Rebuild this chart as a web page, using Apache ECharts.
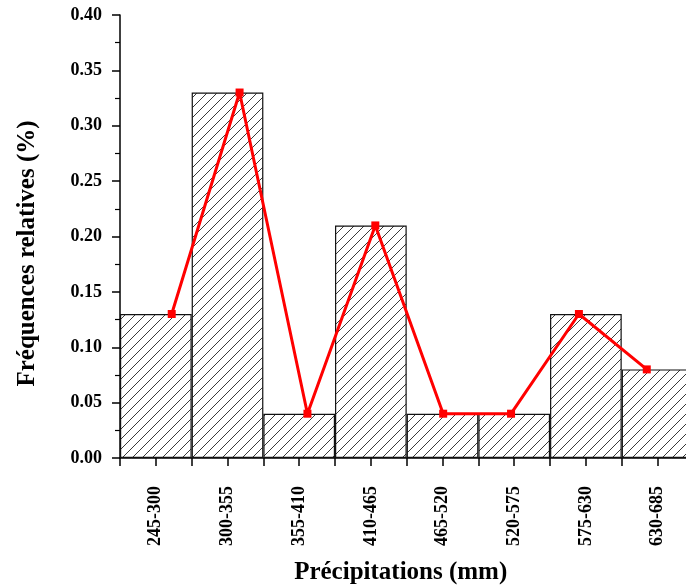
<!DOCTYPE html>
<html>
<head>
<meta charset="utf-8">
<script src="https://cdn.jsdelivr.net/npm/echarts@6/dist/echarts.min.js"></script>
<style>
  html, body { margin: 0; padding: 0; background: #fff; }
  #chart { width: 686px; height: 587px; }
</style>
</head>
<body>
<div id="chart"></div>
<script>
// Precipitation classes (mm) and their relative frequencies
const classes = ['245-300', '300-355', '355-410', '410-465', '465-520', '520-575', '575-630', '630-685'];
const frequencies = [0.13, 0.33, 0.04, 0.21, 0.04, 0.04, 0.13, 0.08];
// Frequency polygon: class number and frequency
const polygonClass = [1, 2, 3, 4, 5, 6, 7, 8];
const polygonFreq = [0.13, 0.33, 0.04, 0.21, 0.04, 0.04, 0.13, 0.08];
const yTicks = [0, 0.05, 0.10, 0.15, 0.20, 0.25, 0.30, 0.35, 0.40];

// Diagonal hatch tile for the histogram bars
function hatchTile(size) {
  const c = document.createElement('canvas');
  c.width = size; c.height = size;
  const g = c.getContext('2d');
  g.fillStyle = '#ffffff';
  g.fillRect(0, 0, size, size);
  g.strokeStyle = '#222222';
  g.lineWidth = 0.9;
  g.beginPath();
  g.moveTo(0, size); g.lineTo(size, 0);
  g.moveTo(-size / 2, size / 2); g.lineTo(size / 2, -size / 2);
  g.moveTo(size / 2, size * 1.5); g.lineTo(size * 1.5, size / 2);
  g.stroke();
  return c;
}

const font = '"Liberation Serif", "Times New Roman", serif';
const chart = echarts.init(document.getElementById('chart'), null, { renderer: 'canvas' });

const halfTicks = [];
classes.forEach(function (c) { halfTicks.push(c + 'a', c + 'b'); });

chart.setOption({
  animation: false,
  backgroundColor: '#ffffff',
  grid: {
    left: 120, top: 15, width: 573.4, height: 443,
    containLabel: false,
    outerBoundsMode: 'none'
  },
  xAxis: [
    {
      type: 'category',
      data: classes,
      boundaryGap: true,
      axisLine: { show: true, lineStyle: { color: '#000', width: 1.5 } },
      axisTick: { show: false },
      axisLabel: {
        rotate: 90, margin: 28, interval: 0,
        color: '#000', fontFamily: font, fontWeight: 'bold', fontSize: 18
      },
      splitLine: { show: false },
      name: 'Précipitations (mm)',
      nameLocation: 'middle',
      nameGap: 102,
      nameTextStyle: { color: '#000', fontFamily: font, fontWeight: 'bold', fontSize: 25, padding: [0, 12, 0, 0] }
    },
    {
      // tick marks at every class edge and every class centre
      type: 'category',
      data: halfTicks,
      position: 'bottom',
      boundaryGap: true,
      axisLine: { show: false },
      axisTick: { show: true, inside: false, length: 8, interval: 0, lineStyle: { color: '#000', width: 1.5 } },
      axisLabel: { show: false },
      splitLine: { show: false }
    },
    {
      type: 'value',
      min: 0.238,
      max: 8.687,
      show: false
    }
  ],
  yAxis: {
    type: 'value',
    min: 0,
    max: 0.40,
    interval: 0.05,
    axisLine: { show: true, lineStyle: { color: '#000', width: 1.5 } },
    axisTick: { show: true, inside: false, length: 8, lineStyle: { color: '#000', width: 1.5 } },
    minorTick: { show: true, splitNumber: 2, length: 5, lineStyle: { color: '#000', width: 1.2 } },
    splitLine: { show: false },
    axisLabel: {
      margin: 18,
      color: '#000', fontFamily: font, fontWeight: 'bold', fontSize: 18,
      formatter: function (v) { return v.toFixed(2); }
    },
    name: 'Fréquences relatives (%)',
    nameLocation: 'middle',
    nameGap: 80,
    nameTextStyle: { color: '#000', fontFamily: font, fontWeight: 'bold', fontSize: 25, padding: [0, 0, 0, -34] }
  },
  series: [
    {
      type: 'bar',
      xAxisIndex: 0,
      data: frequencies,
      barWidth: '100%',
      barCategoryGap: '0%',
      itemStyle: {
        color: { image: hatchTile(10), repeat: 'repeat' },
        borderColor: '#111',
        borderWidth: 1.2
      },
      z: 2
    },
    {
      type: 'line',
      xAxisIndex: 2,
      data: polygonClass.map(function (c, i) { return [c, polygonFreq[i]]; }),
      lineStyle: { color: '#ff0000', width: 3 },
      itemStyle: { color: '#ff0000' },
      symbol: 'rect',
      symbolSize: 8,
      showSymbol: true,
      z: 5
    }
  ]
});
</script>
</body>
</html>
